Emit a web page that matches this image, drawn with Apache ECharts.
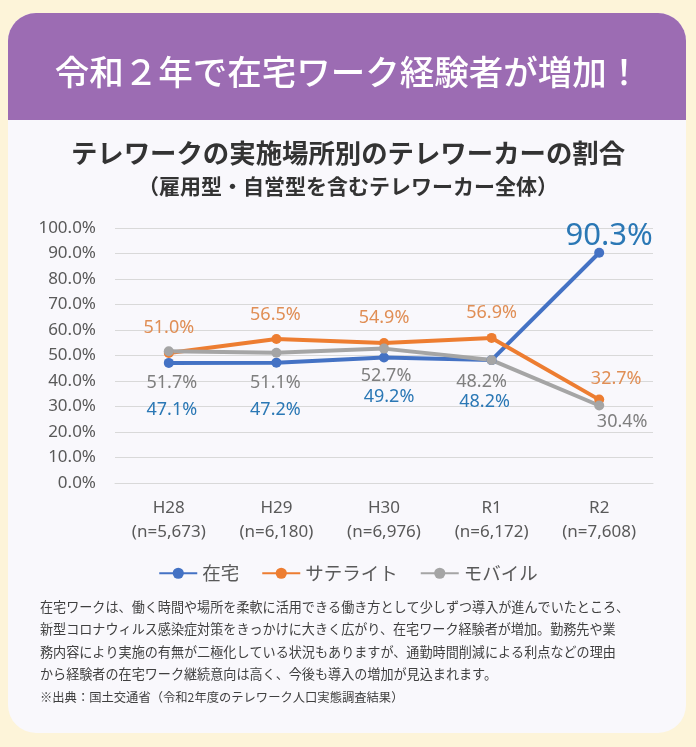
<!DOCTYPE html>
<html><head><meta charset="utf-8">
<style>html,body{margin:0;padding:0;background:#fdf4d9}#c{width:696px;height:747px}</style>
<script src="https://cdn.jsdelivr.net/npm/echarts@6/dist/echarts.min.js"></script>
</head><body><div id="c"></div>
<script>
const categories = ['H28\n(n=5,673)', 'H29\n(n=6,180)', 'H30\n(n=6,976)', 'R1\n(n=6,172)', 'R2\n(n=7,608)'];
const zaitaku = [47.1, 47.2, 49.2, 48.2, 90.3];
const satellite = [51.0, 56.5, 54.9, 56.9, 32.7];
const mobile = [51.7, 51.1, 52.7, 48.2, 30.4];
const seriesNames = ['在宅', 'サテライト', 'モバイル'];
const yTicks = {min: 0, max: 100, interval: 10};

// label placement (offset from point)
const offZ = [[3,47],[-1,47],[5,39],[-7,42],[10,-17]];
const offS = [[0,-25],[-1,-24],[0,-25],[0,-25],[17,-21]];
const offM = [[3,32],[-1,30],[2,27],[-10,22],[23,16]];

const FONT = '"Noto Sans", "Noto Sans CJK JP", sans-serif';
function mk(vals, offs, big) {
  return vals.map((v, i) => ({
    value: v,
    label: {offset: offs[i], fontSize: (big && i === 4) ? 31 : 18}
  }));
}
function series(name, vals, offs, lineColor, labelColor, big) {
  return {
    name, type: 'line', data: mk(vals, offs, big),
    symbol: 'circle', symbolSize: 10,
    lineStyle: {width: 4, color: lineColor},
    itemStyle: {color: lineColor},
    label: {show: true, position: 'inside', color: labelColor, fontFamily: FONT,
      formatter: p => p.value.toFixed(1) + '%'},
    emphasis: {disabled: true}, animation: false
  };
}

const chart = echarts.init(document.getElementById('c'));
const paragraphLines = [
  '在宅ワークは、働く時間や場所を柔軟に活用できる働き方として少しずつ導入が進んでいたところ、',
  '新型コロナウィルス感染症対策をきっかけに大きく広がり、在宅ワーク経験者が増加。勤務先や業',
  '務内容により実施の有無が二極化している状況もありますが、通勤時間削減による利点などの理由',
  'から経験者の在宅ワーク継続意向は高く、今後も導入の増加が見込まれます。'
];
const sourceText = '※出典：国土交通省（令和2年度のテレワーク人口実態調査結果）';

const graphics = [
  {type: 'rect', z: -20, shape: {x: 8, y: 13, width: 678, height: 720, r: 28}, style: {fill: '#f9f8fc'}},
  {type: 'rect', z: -19, shape: {x: 8, y: 13, width: 678, height: 107, r: [28, 28, 0, 0]}, style: {fill: '#9c6cb3'}},
  {type: 'text', z: -18, x: 348, y: 72, style: {text: '令和２年で在宅ワーク経験者が増加！', fill: '#ffffff',
    font: '500 34.5px "Noto Sans CJK JP"', align: 'center', verticalAlign: 'middle'}}
];
paragraphLines.forEach((t, i) => graphics.push({type: 'text', z: -18, x: 40, y: 607 + i * 22.5,
  style: {text: t, fill: '#3f3f3f', font: '13.1px "Noto Sans CJK JP"', align: 'left', verticalAlign: 'middle'}}));
graphics.push({type: 'text', z: -18, x: 40, y: 697, style: {text: sourceText, fill: '#3f3f3f',
  font: '12.3px "Noto Sans CJK JP"', align: 'left', verticalAlign: 'middle'}});

chart.setOption({
  backgroundColor: '#fdf4d9',
  animation: false,
  graphic: graphics,
  title: [
    {text: 'テレワークの実施場所別のテレワーカーの割合', left: 'center', top: 135,
      textStyle: {fontFamily: '"Noto Sans CJK JP"', fontSize: 26.4, fontWeight: 'bold', color: '#333333'}},
    {text: '（雇用型・自営型を含むテレワーカー全体）', left: 'center', top: 171,
      textStyle: {fontFamily: '"Noto Sans CJK JP"', fontSize: 21, fontWeight: 'bold', color: '#333333'}}
  ],
  legend: {
    data: seriesNames, left: 'center', top: 559, itemWidth: 38, itemHeight: 14, itemGap: 22,
    textStyle: {fontFamily: '"Noto Sans CJK JP"', fontSize: 18.5, color: '#595959'}
  },
  grid: {left: 115, right: 43, top: 228, bottom: 264, containLabel: false},
  xAxis: {
    type: 'category', data: categories, boundaryGap: true,
    axisLine: {lineStyle: {color: '#d9d9d9', width: 1}}, axisTick: {show: false},
    axisLabel: {margin: 13, fontFamily: FONT, fontSize: 17, color: '#595959', lineHeight: 24}
  },
  yAxis: {
    type: 'value', min: yTicks.min, max: yTicks.max, interval: yTicks.interval,
    axisLine: {show: false}, axisTick: {show: false},
    splitLine: {lineStyle: {color: '#d9d9d9', width: 1}},
    axisLabel: {margin: 19, fontFamily: FONT, fontSize: 17, color: '#595959', formatter: v => v.toFixed(1) + '%'}
  },
  series: [
    series(seriesNames[0], zaitaku, offZ, '#4472c4', '#2b78b5', true),
    series(seriesNames[1], satellite, offS, '#ed7d31', '#e08e55', false),
    series(seriesNames[2], mobile, offM, '#a5a5a5', '#7f7f7f', false)
  ]
});
</script></body></html>
